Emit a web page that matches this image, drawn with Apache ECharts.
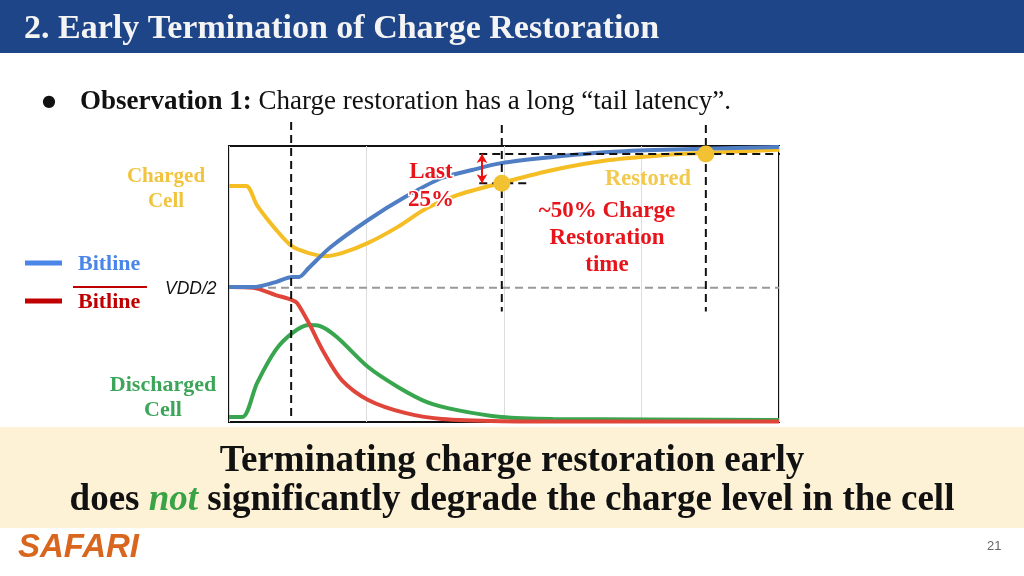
<!DOCTYPE html>
<html><head><meta charset="utf-8">
<script src="https://cdn.jsdelivr.net/npm/echarts@6/dist/echarts.min.js"></script>
<style>html,body{margin:0;padding:0;background:#fff}#c{width:1024px;height:576px}</style>
</head><body><div id="c"></div>
<script>
// ---- data (time 0-100, voltage 0-100 of box height) ----
const chargedX = [0, 3.1, 5.1, 8.5, 11.5, 14.5, 17.5, 20.5, 25.3, 30.7, 36, 41.5, 49.5, 58.9, 69.1, 79.1, 86.7, 100];
const chargedY = [85.5, 85.5, 78.5, 69.8, 63.6, 61.2, 60.1, 61.2, 64.9, 70.7, 77.5, 82.2, 86.6, 91.3, 94.9, 96.7, 97.5, 98.6];
const bitlineX = [0, 4.4, 8.5, 11.5, 12.7, 14.5, 18.5, 25.3, 32, 38.7, 44.2, 49.5, 58.9, 69.1, 79.1, 100];
const bitlineY = [48.9, 48.9, 50.7, 52.5, 52.5, 55.8, 63.4, 73.2, 81.5, 88.4, 91.3, 93.8, 96, 97.8, 98.6, 99.6];
const bitlineBarX = [0, 4.4, 8.5, 11.5, 12.4, 14.5, 17.3, 20.5, 25.3, 32, 38.7, 49.5, 60, 100];
const bitlineBarY = [48.9, 48.6, 46, 44.2, 43.1, 35.9, 25, 15.2, 8, 3.3, 1.1, 0.3, 0.2, 0.2];
const dischargedX = [0, 2.4, 5.1, 8.5, 11.5, 14.5, 16.5, 19.6, 25.3, 30.7, 36, 41.5, 49.5, 58.9, 100];
const dischargedY = [1.8, 1.8, 14.1, 26.1, 32.2, 35.1, 34.8, 30.8, 19.9, 12.7, 7.2, 4.3, 1.8, 1.1, 0.7];
const vddHalf = 48.6;
const senseTime = 11.3, earlyTime = 49.6, fullTime = 86.7;
const earlyLevel = 86.5, fullLevel = 97.1;
const xTicks = [0, 25, 50, 75, 100];

const zip = (xs, ys) => xs.map((x, i) => [x, ys[i]]);
const dash = {color: '#111', width: 2, type: [8, 5]};

const chart = echarts.init(document.getElementById('c'));
const serif = 'Liberation Serif';
const curve = (xs, ys, color) => ({type: 'line', data: zip(xs, ys), smooth: 0.3, symbol: 'none', lineStyle: {color: color, width: 4}});
chart.setOption({
  animation: false,
  grid: {left: 229, top: 146, width: 550, height: 276, show: true, borderColor: '#111', borderWidth: 2, backgroundColor: 'transparent'},
  xAxis: {type: 'value', min: xTicks[0], max: xTicks[xTicks.length - 1], interval: 25,
    axisLine: {show: false}, axisTick: {show: false}, axisLabel: {show: false},
    splitLine: {show: true, lineStyle: {color: '#dcdcdc', width: 1}}},
  yAxis: {type: 'value', min: 0, max: 100, axisLine: {show: false}, axisTick: {show: false},
    axisLabel: {show: false}, splitLine: {show: false}},
  series: [
    {type: 'line', data: [[0, vddHalf], [100, vddHalf]], symbol: 'none', lineStyle: {color: '#999', width: 2, type: [8, 5]}, silent: true},
    curve(dischargedX, dischargedY, '#38A64E'),
    curve(chargedX, chargedY, '#F5BE25'),
    curve(bitlineBarX, bitlineBarY, '#E0453A'),
    curve(bitlineX, bitlineY, '#4F7EC4'),
    // reference dashed lines (extend outside the box)
    {type: 'line', clip: false, data: [[senseTime, 108.7], [senseTime, 0]], symbol: 'none', lineStyle: dash},
    {type: 'line', clip: false, data: [[earlyTime, 107.6], [earlyTime, 40]], symbol: 'none', lineStyle: dash},
    {type: 'line', clip: false, data: [[fullTime, 107.6], [fullTime, 40]], symbol: 'none', lineStyle: dash},
    {type: 'line', clip: false, data: [[45.5, fullLevel], [104.2, fullLevel]], symbol: 'none', lineStyle: dash},
    {type: 'line', clip: false, data: [[45.5, earlyLevel], [54.5, earlyLevel]], symbol: 'none', lineStyle: dash},
    // arrows
    {type: 'line', clip: false, data: [], markLine: {silent: true, symbol: ['none', 'arrow'], symbolSize: [16, 16],
      label: {show: false}, lineStyle: {color: '#EE1111', width: 5, type: 'solid'},
      data: [[{coord: [earlyTime, 104.6]}, {coord: [fullTime - 1.5, 104.6]}]]}},
    {type: 'line', clip: false, data: [], markLine: {silent: true, symbol: ['arrow', 'arrow'], symbolSize: [8, 9],
      label: {show: false}, lineStyle: {color: '#EE1111', width: 2, type: 'solid'},
      data: [[{coord: [46, fullLevel]}, {coord: [46, earlyLevel]}]]}},
    {type: 'scatter', clip: false, z: 10, data: [[earlyTime, earlyLevel], [fullTime, fullLevel]], symbolSize: 17, itemStyle: {color: '#F2C232', opacity: 1}}
  ],
  graphic: [
    {type: 'rect', shape: {x: 0, y: 0, width: 1024, height: 53}, style: {fill: '#1F4589'}},
    {type: 'text', x: 24, y: 29, style: {text: '2. Early Termination of Charge Restoration', font: 'bold 34px "' + serif + '"', fill: '#F4F4F4', verticalAlign: 'middle'}},
    {type: 'text', x: 42, y: 102, style: {text: '●', font: '16px "DejaVu Sans"', fill: '#111', verticalAlign: 'middle'}},
    {type: 'text', x: 80, y: 102, style: {text: '{b|Observation 1:} Charge restoration has a long “tail latency”.', font: '27px "' + serif + '"', fill: '#111', verticalAlign: 'middle',
      rich: {b: {font: 'bold 27px "' + serif + '"', fill: '#111'}}}},
    // chart labels
    {type: 'text', x: 166, y: 189, style: {text: 'Charged\nCell', font: 'bold 21px "' + serif + '"', lineHeight: 25, fill: '#F2C33C', align: 'center', verticalAlign: 'middle'}},
    {type: 'text', x: 163, y: 398, style: {text: 'Discharged\nCell', font: 'bold 22px "' + serif + '"', lineHeight: 25, fill: '#3DA55A', align: 'center', verticalAlign: 'middle'}},
    {type: 'line', shape: {x1: 25, y1: 263, x2: 62, y2: 263}, style: {stroke: '#4A86E8', lineWidth: 5}},
    {type: 'text', x: 78, y: 264, style: {text: 'Bitline', font: 'bold 22px "' + serif + '"', fill: '#4A86E8', verticalAlign: 'middle'}},
    {type: 'line', shape: {x1: 25, y1: 301, x2: 62, y2: 301}, style: {stroke: '#C00000', lineWidth: 5}},
    {type: 'line', shape: {x1: 73, y1: 287, x2: 147, y2: 287}, style: {stroke: '#C00000', lineWidth: 2}},
    {type: 'text', x: 78, y: 302, style: {text: 'Bitline', font: 'bold 22px "' + serif + '"', fill: '#C00000', verticalAlign: 'middle'}},
    {type: 'text', x: 165, y: 289, style: {text: 'VDD/2', font: 'italic 17.5px "Liberation Sans"', fill: '#111', verticalAlign: 'middle'}},
    {type: 'text', x: 431, y: 186, z: 50, style: {text: 'Last\n25%', font: 'bold 23px "' + serif + '"', lineHeight: 28, fill: '#E8141B', align: 'center', verticalAlign: 'middle',
      textStroke: '#fff', textStrokeWidth: 3, stroke: '#fff', lineWidth: 4}},
    {type: 'text', x: 648, y: 179, z: 50, style: {text: 'Restored', font: 'bold 22.5px "' + serif + '"', fill: '#F2C94C', align: 'center', verticalAlign: 'middle'}},
    {type: 'text', x: 607, y: 238, z: 50, style: {text: '~50% Charge\nRestoration\ntime', font: 'bold 23px "' + serif + '"', lineHeight: 27, fill: '#E8141B', align: 'center', verticalAlign: 'middle'}},
    // bottom band
    {type: 'rect', shape: {x: 0, y: 427, width: 1024, height: 101}, style: {fill: '#FDF1D6'}},
    {type: 'text', x: 512, y: 461, style: {text: 'Terminating charge restoration early', font: 'bold 37px "' + serif + '"', fill: '#111', align: 'center', verticalAlign: 'middle'}},
    {type: 'text', x: 512, y: 500, style: {text: 'does {g|not} significantly degrade the charge level in the cell', font: 'bold 37px "' + serif + '"', fill: '#111', align: 'center', verticalAlign: 'middle',
      rich: {g: {font: 'bold italic 37px "' + serif + '"', fill: '#3AA346'}}}},
    {type: 'text', x: 18, y: 548, style: {text: 'SAFARI', font: 'bold italic 33px "Liberation Sans"', fill: '#D9661F', verticalAlign: 'middle'}},
    {type: 'text', x: 987, y: 546, style: {text: '21', font: '13px "Liberation Sans"', fill: '#666', verticalAlign: 'middle'}}
  ]
});
</script></body></html>
